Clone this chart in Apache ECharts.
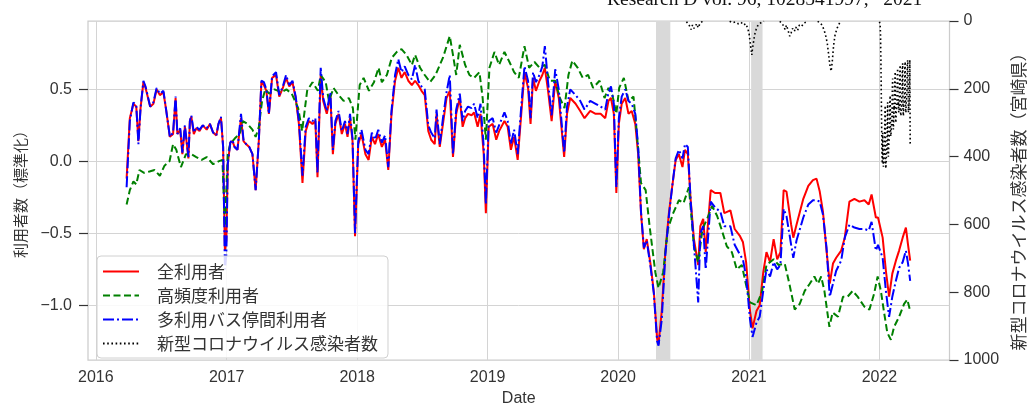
<!DOCTYPE html>
<html><head><meta charset="utf-8">
<script src="https://cdn.jsdelivr.net/npm/echarts@6/dist/echarts.min.js"></script>
<style>html,body{margin:0;padding:0;background:#fff}#c{width:1035px;height:412px}</style>
</head><body><div id="c"></div>
<script>
// ---- data ----
const yearTicks = ['2016-01-01','2017-01-01','2018-01-01','2019-01-01','2020-01-01','2021-01-01','2022-01-01'];
const xRange = ['2015-12-10', '2022-07-16'];
const leftTicks = [-1, -0.5, 0, 0.5];
const emergencyPeriods = [['2020-04-16','2020-05-26'],['2021-01-07','2021-02-08']];

const allDates = [
'2016-03-27','2016-04-05','2016-04-15','2016-04-23','2016-04-29','2016-05-05','2016-05-13','2016-05-19','2016-06-01','2016-06-10','2016-06-19','2016-06-28','2016-07-08','2016-07-16','2016-07-26','2016-08-04','2016-08-11','2016-08-16','2016-08-24','2016-08-30','2016-09-06','2016-09-16','2016-09-20','2016-09-24','2016-10-01','2016-10-08','2016-10-17','2016-10-26','2016-11-06','2016-11-15','2016-11-24','2016-12-03','2016-12-09','2016-12-16','2016-12-22','2016-12-27','2016-12-31',
'2017-01-04','2017-01-11','2017-01-17','2017-01-23','2017-01-31','2017-02-10','2017-02-17','2017-02-24','2017-03-05','2017-03-14','2017-03-23','2017-04-01','2017-04-08','2017-04-15','2017-04-22','2017-04-29','2017-05-08','2017-05-19','2017-05-28','2017-06-07','2017-06-16','2017-06-25','2017-07-04','2017-07-13','2017-07-22','2017-08-01','2017-08-10','2017-08-19','2017-08-29','2017-09-06','2017-09-12','2017-09-21','2017-09-28','2017-10-08','2017-10-18','2017-10-25','2017-11-01','2017-11-10','2017-11-19','2017-11-28','2017-12-05','2017-12-12','2017-12-19','2017-12-26',
'2018-01-04','2018-01-13','2018-01-24','2018-02-02','2018-02-11','2018-02-20','2018-03-01','2018-03-11','2018-03-20','2018-03-29','2018-04-07','2018-04-17','2018-04-26','2018-05-05','2018-05-14','2018-05-24','2018-06-03','2018-06-12','2018-06-21','2018-06-30','2018-07-09','2018-07-19','2018-07-27','2018-08-06','2018-08-11','2018-08-20','2018-08-29','2018-09-08','2018-09-17','2018-09-26','2018-10-05','2018-10-15','2018-10-23','2018-10-30','2018-11-07','2018-11-17','2018-11-24','2018-12-04','2018-12-12','2018-12-21','2018-12-27',
'2019-01-04','2019-01-15','2019-01-25','2019-02-02','2019-02-17','2019-02-26','2019-03-07','2019-03-16','2019-03-26','2019-04-05','2019-04-14','2019-04-24','2019-05-01','2019-05-08','2019-05-16','2019-05-26','2019-06-03','2019-06-10','2019-06-19','2019-06-29','2019-07-09','2019-07-19','2019-08-03','2019-08-11','2019-08-20','2019-09-04','2019-09-17','2019-09-29','2019-10-15','2019-10-30','2019-11-13','2019-11-26','2019-12-05','2019-12-12','2019-12-20','2019-12-24','2019-12-27',
'2020-01-03','2020-01-11','2020-01-21','2020-01-30','2020-02-08','2020-02-18','2020-02-26','2020-03-05','2020-03-13','2020-03-21','2020-04-01','2020-04-10','2020-04-19','2020-04-23','2020-05-02','2020-05-12','2020-05-22','2020-05-31','2020-06-10','2020-06-19','2020-06-29','2020-07-06','2020-07-14','2020-07-22','2020-07-31','2020-08-12','2020-08-18','2020-08-26','2020-09-02','2020-09-16','2020-09-28','2020-10-13','2020-10-24','2020-11-10','2020-11-22','2020-12-07','2020-12-15','2020-12-24',
'2021-01-04','2021-01-11','2021-01-22','2021-01-31','2021-02-10','2021-02-19','2021-03-01','2021-03-11','2021-03-21','2021-03-30','2021-04-08','2021-04-16','2021-04-29','2021-05-05','2021-05-14','2021-06-02','2021-06-16','2021-06-29','2021-07-09','2021-07-18','2021-07-27','2021-08-06','2021-08-15','2021-08-24','2021-09-02','2021-09-16','2021-09-26','2021-10-09','2021-10-23','2021-11-06','2021-11-20','2021-12-02','2021-12-10','2021-12-22','2021-12-28',
'2022-01-10','2022-01-19','2022-01-28','2022-02-06','2022-02-16','2022-02-25','2022-03-07','2022-03-16','2022-03-22','2022-03-28'
];
// 全利用者 (red)
const allUsers = [
-0.12,0.30,0.40,0.38,0.14,0.37,0.55,0.51,0.38,0.40,0.50,0.46,0.48,0.35,0.17,0.19,0.44,0.19,0.22,0.05,0.24,0.02,0.28,0.31,0.19,0.23,0.21,0.25,0.22,0.26,0.20,0.18,0.26,0.30,0.10,-0.62,-0.55,
-0.02,0.13,0.14,0.10,0.08,0.30,0.14,0.12,0.10,0.05,-0.20,0.15,0.55,0.53,0.49,0.33,0.58,0.60,0.45,0.51,0.58,0.52,0.55,0.44,0.26,-0.15,0.21,0.28,0.26,0.28,-0.11,0.60,0.42,0.33,0.46,0.05,0.26,0.33,0.19,0.26,0.17,0.30,0.14,-0.52,
0.12,0.19,0.05,0.01,0.17,0.12,0.19,0.10,0.15,-0.06,0.33,0.56,0.65,0.58,0.62,0.56,0.53,0.56,0.53,0.49,0.46,0.21,0.15,0.12,0.33,0.10,0.26,0.44,0.49,0.03,0.33,0.44,0.24,0.30,0.33,0.32,0.34,0.24,0.33,0.05,-0.36,
0.24,0.26,0.15,0.21,0.28,0.24,0.08,0.17,0.01,0.33,0.62,0.51,0.26,0.58,0.49,0.56,0.60,0.65,0.49,0.28,0.56,0.44,0.03,0.33,0.44,0.40,0.35,0.30,0.35,0.33,0.33,0.30,0.42,0.44,0.33,0.03,-0.22,
0.26,0.40,0.44,0.33,0.35,0.26,0.05,-0.36,-0.61,-0.54,-0.72,-0.91,-1.23,-1.27,-1.04,-0.63,-0.36,-0.18,0.01,0.05,-0.04,0.08,0.05,-0.27,-0.54,-0.72,-0.45,-0.40,-0.63,-0.20,-0.22,-0.22,-0.36,-0.34,-0.47,-0.52,-0.56,-0.70,
-1.04,-1.16,-1.04,-1.00,-0.77,-0.63,-0.70,-0.54,-0.68,-0.63,-0.20,-0.21,-0.44,-0.53,-0.44,-0.26,-0.17,-0.13,-0.12,-0.21,-0.35,-0.62,-0.85,-0.71,-0.67,-0.62,-0.53,-0.28,-0.26,-0.28,-0.27,-0.30,-0.23,-0.39,-0.39,
-0.53,-0.76,-0.94,-0.78,-0.69,-0.62,-0.53,-0.46,-0.58,-0.69
];
// 多利用バス停間利用者 (blue)
const multiStopUsers = [
-0.18,0.28,0.41,0.39,0.12,0.37,0.56,0.52,0.38,0.41,0.51,0.47,0.49,0.35,0.17,0.20,0.45,0.19,0.23,0.06,0.25,0.03,0.28,0.32,0.20,0.24,0.22,0.25,0.23,0.26,0.20,0.18,0.26,0.31,0.10,-0.75,-0.65,
-0.02,0.13,0.15,0.10,0.08,0.33,0.15,0.12,0.10,0.05,-0.20,0.15,0.56,0.55,0.50,0.33,0.59,0.62,0.46,0.52,0.60,0.53,0.56,0.45,0.28,-0.10,0.24,0.30,0.28,0.30,-0.08,0.65,0.44,0.35,0.48,0.08,0.28,0.35,0.21,0.28,0.19,0.33,0.16,-0.50,
0.14,0.22,0.08,0.05,0.20,0.15,0.22,0.13,0.18,-0.04,0.35,0.60,0.71,0.62,0.66,0.60,0.57,0.67,0.56,0.52,0.50,0.25,0.20,0.16,0.36,0.12,0.30,0.48,0.60,0.05,0.36,0.47,0.28,0.35,0.38,0.37,0.40,0.30,0.40,0.10,-0.30,
0.28,0.30,0.20,0.25,0.34,0.28,0.12,0.22,0.05,0.38,0.66,0.56,0.30,0.62,0.55,0.60,0.66,0.80,0.55,0.32,0.64,0.50,0.06,0.38,0.50,0.46,0.42,0.36,0.42,0.40,0.38,0.36,0.48,0.52,0.40,0.05,-0.18,
0.30,0.45,0.50,0.42,0.40,0.33,0.10,-0.35,-0.60,-0.55,-0.74,-0.92,-1.25,-1.28,-1.10,-0.65,-0.38,-0.18,0.02,0.08,0.02,0.12,0.10,-0.28,-0.58,-0.98,-0.50,-0.45,-0.75,-0.28,-0.32,-0.35,-0.45,-0.45,-0.58,-0.65,-0.68,-0.80,
-1.10,-1.22,-1.12,-1.08,-0.90,-0.75,-0.80,-0.70,-0.75,-0.72,-0.33,-0.38,-0.58,-0.67,-0.55,-0.39,-0.30,-0.27,-0.27,-0.28,-0.37,-0.60,-0.94,-0.85,-0.76,-0.69,-0.53,-0.44,-0.46,-0.47,-0.47,-0.48,-0.42,-0.62,-0.58,
-0.67,-0.90,-1.08,-0.94,-0.83,-0.74,-0.70,-0.62,-0.71,-0.83
];
// 高頻度利用者 (green)
const freqDates = [
'2016-03-27','2016-04-05','2016-04-15','2016-04-23','2016-05-02','2016-05-15','2016-05-30','2016-06-13','2016-06-28','2016-07-11','2016-07-25','2016-08-04','2016-08-13','2016-08-26','2016-09-09','2016-09-24','2016-10-08','2016-10-23','2016-11-06','2016-11-24','2016-12-09','2016-12-20','2016-12-27',
'2017-01-04','2017-01-11','2017-01-24','2017-02-06','2017-02-15','2017-02-28','2017-03-14','2017-03-23','2017-04-01','2017-04-10','2017-04-19','2017-04-30','2017-05-15','2017-06-03','2017-06-17','2017-07-02','2017-07-20','2017-07-31','2017-08-14','2017-08-29','2017-09-13','2017-09-21','2017-10-05','2017-10-14','2017-10-27','2017-11-10','2017-11-24','2017-12-09','2017-12-20','2017-12-27',
'2018-01-08','2018-01-19','2018-02-03','2018-02-17','2018-03-02','2018-03-11','2018-03-25','2018-04-08','2018-04-22','2018-05-05','2018-05-19','2018-06-03','2018-06-12','2018-06-26','2018-07-09','2018-07-24','2018-08-08','2018-08-29','2018-09-17','2018-09-26','2018-10-05','2018-10-15','2018-10-30','2018-11-11','2018-11-24','2018-12-09','2018-12-18','2018-12-27',
'2019-01-06','2019-01-20','2019-02-02','2019-02-17','2019-03-03','2019-03-16','2019-03-29','2019-04-14','2019-04-27','2019-05-12','2019-05-26','2019-06-10','2019-06-24','2019-07-09','2019-07-22','2019-08-04','2019-08-15','2019-08-26','2019-09-10','2019-09-24','2019-10-09','2019-10-23','2019-11-10','2019-11-24','2019-12-05','2019-12-16','2019-12-27',
'2020-01-04','2020-01-17','2020-01-30','2020-02-13','2020-02-20','2020-03-05','2020-03-18','2020-03-29','2020-04-14','2020-04-23','2020-05-06','2020-05-19','2020-06-03','2020-06-19','2020-07-02','2020-07-17','2020-07-31','2020-08-12','2020-08-24','2020-09-06','2020-09-20','2020-10-04','2020-10-16','2020-10-31','2020-11-14','2020-11-28','2020-12-12','2020-12-24',
'2021-01-04','2021-01-22','2021-02-06','2021-02-19','2021-03-11','2021-03-25','2021-04-11','2021-04-24','2021-05-09','2021-05-23','2021-06-06','2021-06-20','2021-07-03','2021-07-13','2021-07-22','2021-07-31','2021-08-14','2021-08-23','2021-09-07','2021-09-21','2021-10-04','2021-10-18','2021-11-01','2021-11-20','2021-12-04','2021-12-17','2021-12-27',
'2022-01-05','2022-01-14','2022-01-23','2022-02-02','2022-02-11','2022-02-25','2022-03-11','2022-03-20','2022-03-28'
];
const freqUsers = [
-0.30,-0.20,-0.14,-0.16,-0.06,-0.08,-0.07,-0.06,-0.10,-0.03,0.00,0.12,0.08,-0.04,0.05,0.05,0.03,0.01,0.03,-0.02,0.00,0.01,-0.45,
0.05,0.12,0.16,0.19,0.28,0.26,0.22,0.17,0.24,0.42,0.50,0.47,0.50,0.48,0.50,0.47,0.37,0.21,0.49,0.55,0.49,0.60,0.55,0.42,0.51,0.46,0.42,0.44,0.37,0.15,
0.53,0.58,0.49,0.55,0.65,0.55,0.60,0.72,0.76,0.78,0.74,0.67,0.74,0.65,0.60,0.55,0.60,0.72,0.87,0.74,0.60,0.81,0.67,0.60,0.58,0.62,0.44,0.15,
0.65,0.76,0.67,0.76,0.69,0.62,0.58,0.80,0.65,0.69,0.65,0.67,0.56,0.56,0.44,0.37,0.60,0.70,0.65,0.58,0.60,0.51,0.56,0.44,0.51,0.46,0.33,
0.51,0.58,0.42,0.45,0.26,-0.15,-0.20,-0.45,-0.77,-0.88,-0.77,-0.47,-0.36,-0.27,-0.29,-0.18,-0.59,-0.70,-0.47,-0.40,-0.31,-0.38,-0.47,-0.59,-0.63,-0.75,-0.72,-0.86,
-0.98,-1.00,-0.91,-0.72,-0.68,-0.72,-0.71,-0.85,-1.03,-0.99,-0.90,-0.85,-0.80,-0.85,-0.80,-0.90,-1.15,-1.05,-1.08,-0.94,-0.94,-0.90,-0.94,-1.01,-1.03,-0.92,-0.80,
-0.90,-1.05,-1.19,-1.24,-1.15,-1.08,-0.99,-0.96,-1.04
];
// 新型コロナウイルス感染者数 (black, right axis); null = not drawn
const covidDates = [
'2020-07-10','2020-07-15','2020-07-19','2020-07-23','2020-07-27','2020-07-31','2020-08-04','2020-08-08','2020-08-12','2020-08-16','2020-08-20','2020-08-24','2020-08-28',
'2020-11-08','2020-11-16','2020-11-24','2020-12-02','2020-12-10','2020-12-17','2020-12-23','2020-12-28','2021-01-01','2021-01-04','2021-01-07','2021-01-09','2021-01-11','2021-01-14','2021-01-17','2021-01-21','2021-01-25','2021-01-30','2021-02-05','2021-02-12','2021-02-20',
'2021-03-28','2021-04-03','2021-04-08','2021-04-12','2021-04-16','2021-04-21','2021-04-25','2021-04-29','2021-05-03','2021-05-08','2021-05-12','2021-05-17','2021-05-22','2021-05-28','2021-06-04','2021-06-12','2021-06-20',
'2021-07-12','2021-07-20','2021-07-26','2021-07-31','2021-08-04','2021-08-08','2021-08-12','2021-08-16','2021-08-19','2021-08-22','2021-08-26','2021-08-30','2021-09-05','2021-09-12','2021-09-20'
];
const covidCases = [
2,8,15,25,12,22,18,8,20,10,4,1,null,
1,5,3,8,4,12,8,20,35,60,85,100,80,60,40,25,15,8,4,1,null,
1,6,15,25,12,30,45,35,22,30,18,28,12,16,6,2,null,
1,6,15,30,45,65,100,135,148,120,70,40,20,5,null
];
const omicronStart = '2022-01-01';
const omicronDailyCases = [
2,4,10,40,110,200,300,380,420,330,400,430,420,400,380,300,250,420,435,410,390,370,280,240,390,400,370,350,320,240,220,
330,340,320,300,280,200,170,300,320,290,250,260,180,150,290,300,270,260,240,160,140,250,230,270,260,230,150,130,
270,280,260,250,220,140,125,260,280,250,240,220,140,120,260,270,240,230,210,130,115,160,270,250,240,220,115,365
];

// ---- build ----
const DAY = 86400000;
const ts = s => new Date(s + 'T00:00:00').getTime();
const pairs = (d, v) => d.map((x, i) => [ts(x), v[i]]);
const omicron = omicronDailyCases.map((v, i) => [ts(omicronStart) + i * DAY, v]);
const covidData = pairs(covidDates, covidCases).concat(omicron);

const LATIN = '"Liberation Sans", Arial, sans-serif';
const JP = '"Noto Sans CJK JP", sans-serif';
const TXT = '#333333';
const GRID = '#d4d4d4';

const chart = echarts.init(document.getElementById('c'), null, {renderer: 'canvas'});
chart.setOption({
  animation: false,
  backgroundColor: '#ffffff',
  graphic: [{
    type: 'text', left: 607, top: -10, z: 100,
    style: {text: 'Research D vol. 96, 1028541997,   2021', font: '19.5px "Liberation Serif", "Times New Roman", serif', fill: '#111'}
  }],
  grid: {left: 88, top: 21, width: 866, height: 343, show: true, borderColor: '#cccccc', borderWidth: 1.25, backgroundColor: '#ffffff'},
  legend: {
    orient: 'vertical', left: 97, top: 256,
    itemWidth: 36, itemHeight: 14, itemGap: 7,
    padding: [7, 10, 6, 5],
    backgroundColor: 'rgba(255,255,255,0.85)', borderColor: '#d0d0d0', borderWidth: 1, borderRadius: 4,
    itemStyle: {opacity: 0},
    textStyle: {fontFamily: JP, fontSize: 17, lineHeight: 17, color: TXT, padding: [0, 0, 0, 13]},
    data: ['全利用者', '高頻度利用者', '多利用バス停間利用者', '新型コロナウイルス感染者数']
  },
  xAxis: {
    type: 'value', min: ts(xRange[0]), max: ts(xRange[1]),
    name: 'Date', nameLocation: 'middle', nameGap: 31,
    nameTextStyle: {fontFamily: LATIN, fontSize: 16, color: TXT},
    axisLine: {show: false},
    axisTick: {show: false, customValues: yearTicks.map(ts)},
    axisLabel: {customValues: yearTicks.map(ts), formatter: v => String(new Date(v).getFullYear()), fontFamily: LATIN, fontSize: 16, color: TXT, margin: 10},
    splitLine: {show: true, lineStyle: {color: GRID, width: 1}}
  },
  yAxis: [{
    type: 'value', min: -1.38, max: 0.975,
    name: '利用者数（標準化）', nameLocation: 'middle', nameRotate: 90, nameGap: 60,
    nameTextStyle: {fontFamily: JP, fontSize: 15, color: TXT},
    axisLine: {show: false},
    axisTick: {show: true, customValues: leftTicks, length: 9, lineStyle: {color: '#333', width: 1.2}},
    axisLabel: {customValues: leftTicks, formatter: v => (v < 0 ? '\u2212' : '') + Math.abs(v).toFixed(1), fontFamily: LATIN, fontSize: 16, color: TXT, margin: 16},
    splitLine: {show: true, lineStyle: {color: GRID, width: 1}}
  }, {
    type: 'value', min: 0, max: 1000, interval: 200, inverse: true, position: 'right',
    name: '新型コロナウイルス感染者数（宮崎県）', nameLocation: 'middle', nameRotate: 90, nameGap: 58,
    nameTextStyle: {fontFamily: JP, fontSize: 17, color: TXT, padding: [0, 14, 0, 0]},
    axisLine: {show: false},
    axisTick: {show: true, length: 9, lineStyle: {color: '#333', width: 1.2}},
    axisLabel: {formatter: v => String(v), fontFamily: LATIN, fontSize: 16, color: TXT, margin: 14},
    splitLine: {show: false}
  }],
  series: [
    {type: 'line', name: 'emergency', data: [], z: 1, silent: true,
     markArea: {silent: true, itemStyle: {color: '#d9d9d9'}, data: emergencyPeriods.map(p => [{xAxis: ts(p[0])}, {xAxis: ts(p[1])}])}},
    {type: 'line', name: '全利用者', data: pairs(allDates, allUsers), symbol: 'none', z: 3,
     lineStyle: {color: '#ff0000', width: 2}, itemStyle: {color: '#ff0000'}},
    {type: 'line', name: '高頻度利用者', data: pairs(freqDates, freqUsers), symbol: 'none', z: 3,
     lineStyle: {color: '#008000', width: 2, type: [7, 3.5]}, itemStyle: {color: '#008000'}},
    {type: 'line', name: '多利用バス停間利用者', data: pairs(allDates, multiStopUsers), symbol: 'none', z: 3,
     lineStyle: {color: '#0000ff', width: 2, type: [11, 3, 2, 3]}, itemStyle: {color: '#0000ff'}},
    {type: 'line', name: '新型コロナウイルス感染者数', yAxisIndex: 1, data: covidData, symbol: 'none', z: 4, connectNulls: false,
     lineStyle: {color: '#000000', width: 1.6, type: [1.6, 2.6]}, itemStyle: {color: '#000000'}}
  ]
});
</script></body></html>
